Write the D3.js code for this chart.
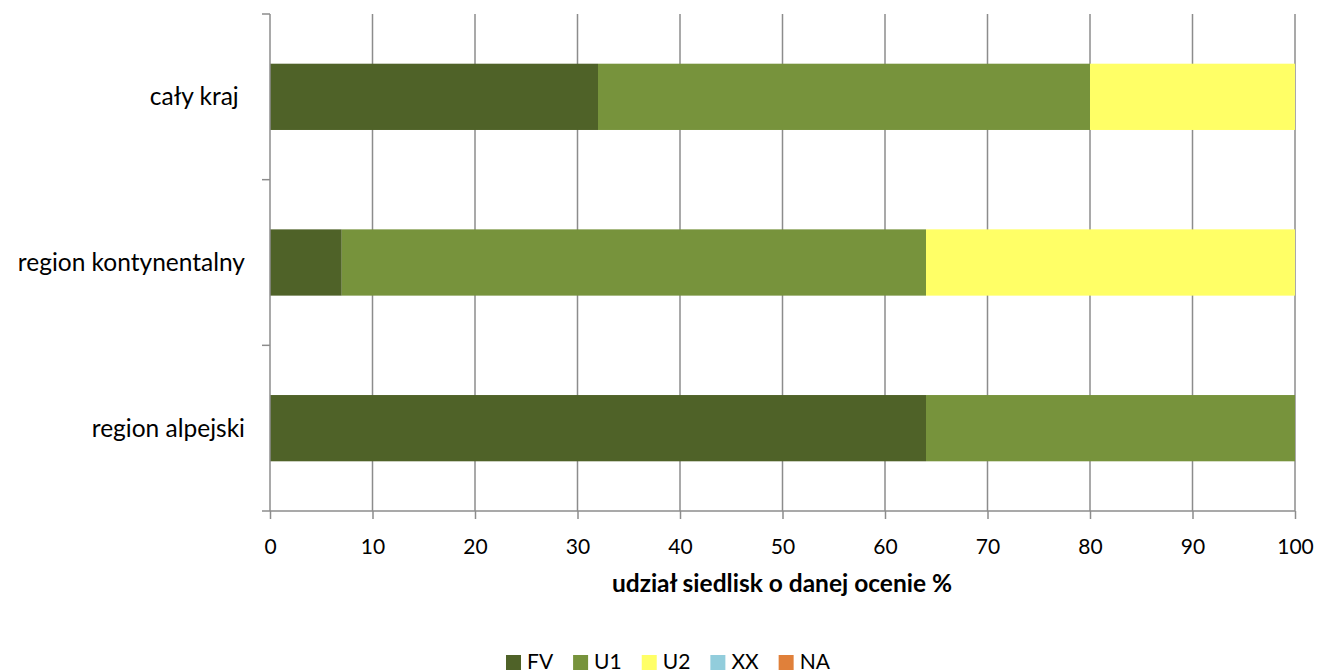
<!DOCTYPE html>
<html><head><meta charset="utf-8">
<script src="https://cdn.jsdelivr.net/npm/d3@7"></script>
<style>body{margin:0;background:#fff}svg{display:block}text{font-family:Lato,"Open Sans",sans-serif;fill:#000}</style>
</head><body>
<svg id="c" width="1319" height="672"></svg>
<script>
const categories = ["cały kraj ", "region kontynentalny", "region alpejski"];
const seriesNames = ["FV", "U1", "U2", "XX", "NA"];
const FV = [32, 7, 64];
const U1 = [48, 57, 36];
const U2 = [20, 36, 0];
const XX = [0, 0, 0];
const NA = [0, 0, 0];
const xTicks = [0, 10, 20, 30, 40, 50, 60, 70, 80, 90, 100];
const colors = ["#4F6228", "#77933C", "#FFFF66", "#92CDDC", "#E0803A"];
const axisTitle = "udział siedlisk o danej ocenie %";

const svg = d3.select("#c");
const L = 270, R = 1295, T = 14, B = 511;
const x = d3.scaleLinear().domain([0, 100]).range([L, R]);
const y = d3.scaleBand().domain(categories).range([T, B]).paddingInner(0.6).paddingOuter(0.3);

const rows = categories.map((c, i) => ({cat: c, FV: FV[i], U1: U1[i], U2: U2[i], XX: XX[i], NA: NA[i]}));
const stack = d3.stack().keys(seriesNames)(rows);

// gridlines
svg.append("g").selectAll("line").data(xTicks.filter(d => d > 0)).join("line")
  .attr("x1", d => x(d)).attr("x2", d => x(d)).attr("y1", T).attr("y2", B)
  .attr("stroke", "#8c8c8c").attr("stroke-width", 1.5);

// bars
svg.append("g").selectAll("g").data(stack).join("g")
  .attr("fill", (d, i) => colors[i])
  .selectAll("rect").data(d => d).join("rect")
  .attr("x", d => x(d[0])).attr("width", d => x(d[1]) - x(d[0]))
  .attr("y", d => y(d.data.cat)).attr("height", y.bandwidth());

// x axis
const xa = svg.append("g").attr("transform", `translate(0,${B})`)
  .call(d3.axisBottom(x).tickValues(xTicks).tickSize(8).tickPadding(20));
xa.select(".domain").attr("stroke", "#8c8c8c").attr("stroke-width", 1.5).attr("d", `M${L-8},0H${R}`);
xa.selectAll(".tick line").attr("stroke", "#8c8c8c").attr("stroke-width", 1.5);
xa.selectAll(".tick text").attr("font-size", 21).attr("font-family", "Lato").attr("fill", "#000");

// y axis line and boundary ticks
svg.append("line").attr("x1", L).attr("x2", L).attr("y1", T).attr("y2", B)
  .attr("stroke", "#8c8c8c").attr("stroke-width", 1.5);
const step = (B - T) / categories.length;
svg.append("g").selectAll("line").data(d3.range(categories.length)).join("line")
  .attr("x1", L - 8).attr("x2", L).attr("y1", i => T + i * step).attr("y2", i => T + i * step)
  .attr("stroke", "#8c8c8c").attr("stroke-width", 1.5);

// category labels
svg.append("g").selectAll("text").data(categories).join("text")
  .attr("x", 245).attr("y", d => y(d) + y.bandwidth() / 2)
  .attr("dy", "0.35em").attr("text-anchor", "end").attr("font-size", 24.5)
  .style("white-space", "pre").text(d => d);

// axis title
svg.append("text").attr("x", 782).attr("y", 592).attr("text-anchor", "middle")
  .attr("font-size", 24.5).attr("font-weight", "bold").text(axisTitle);

// legend
const lg = svg.append("g");
let lx = 506;
seriesNames.forEach((s, i) => {
  lg.append("rect").attr("x", lx).attr("y", 655).attr("width", 15).attr("height", 15).attr("fill", colors[i]);
  const t = lg.append("text").attr("x", lx + 21).attr("y", 669).attr("font-size", 21).text(s);
  lx += 21 + t.node().getComputedTextLength() + 20;
});
</script>
</body></html>
